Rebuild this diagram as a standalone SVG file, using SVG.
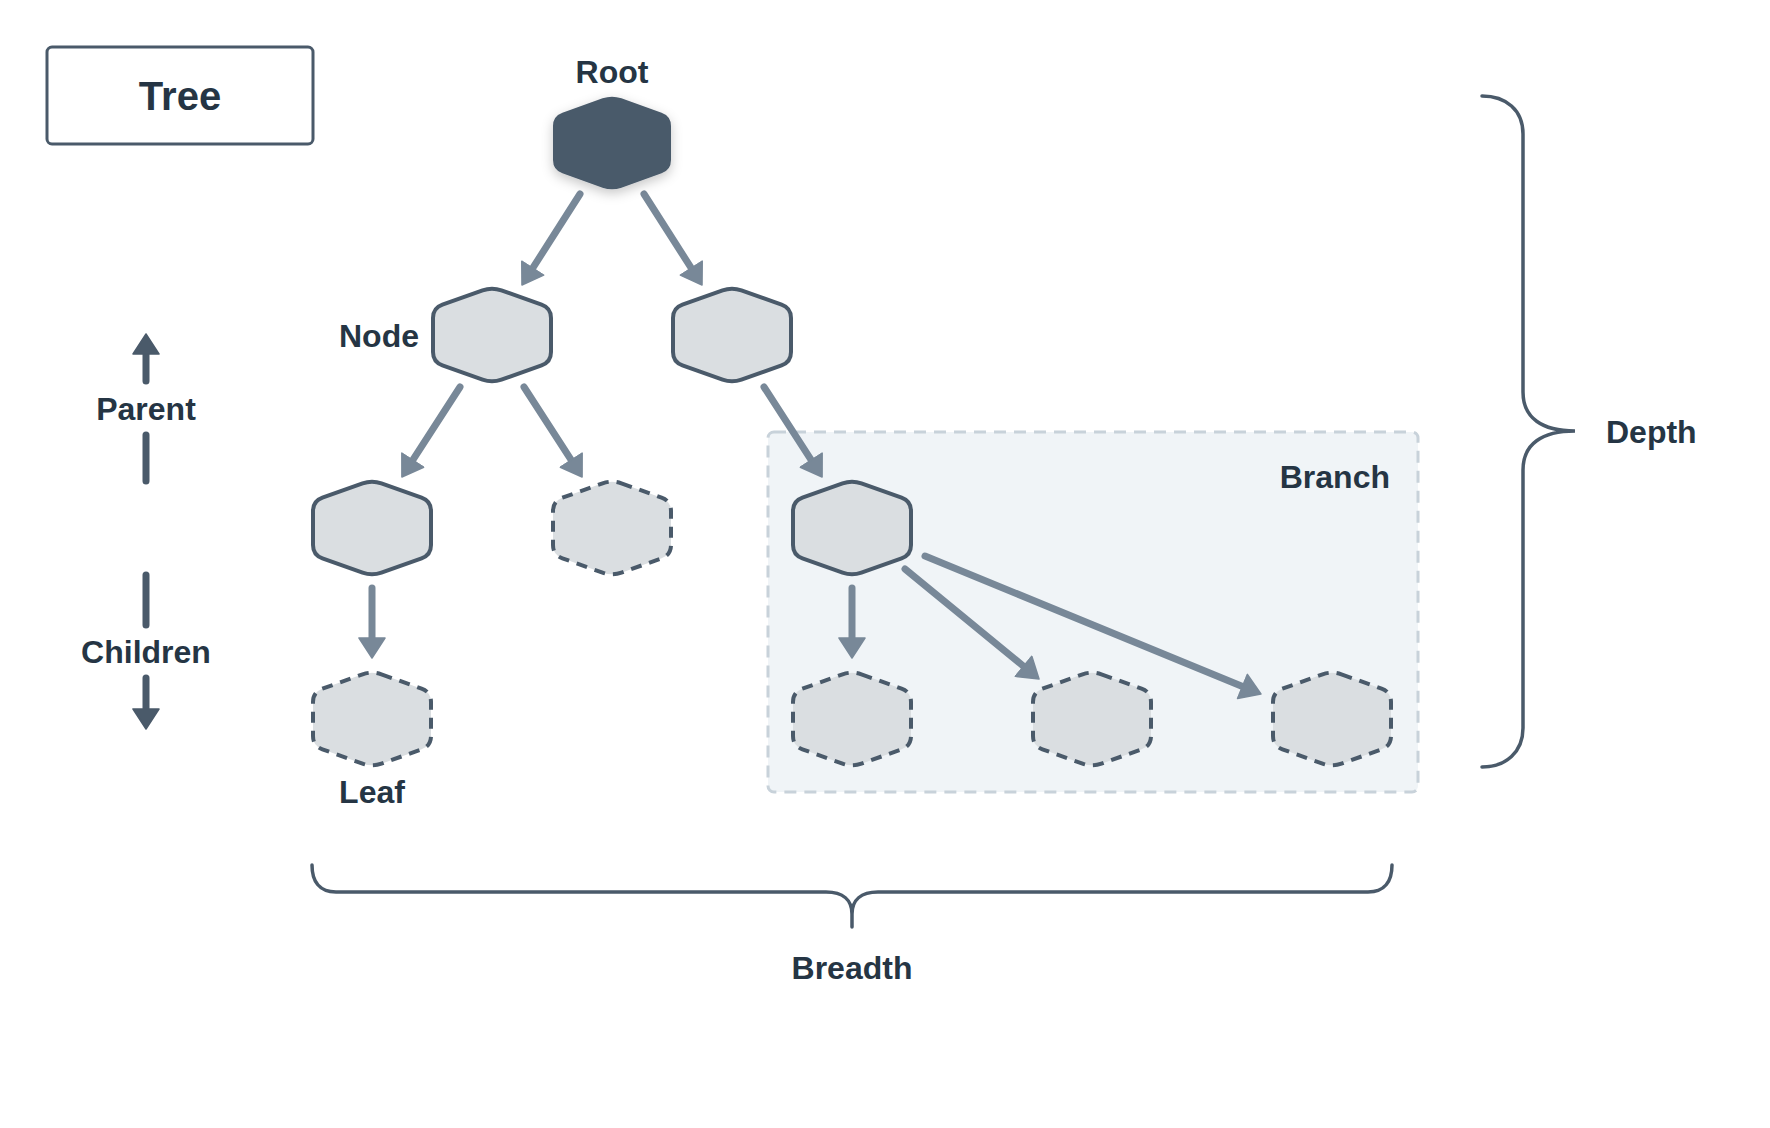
<svg xmlns="http://www.w3.org/2000/svg" xmlns:xlink="http://www.w3.org/1999/xlink" width="1770" height="1128" viewBox="0 0 1770 1128">
<style>
.lbl{font-family:"Liberation Sans",Arial,sans-serif;font-weight:bold;font-size:32px;fill:#253544}
.hex{fill:#dadee1;stroke:#4a5a6a;stroke-width:4;stroke-linejoin:round}
.dash{stroke-dasharray:11 8}
.conn{fill:none;stroke:#788898;stroke-width:7;stroke-linecap:round}
.dir{fill:none;stroke:#4a5a6a;stroke-width:7;stroke-linecap:round}
.brace{fill:none;stroke:#4a5a6a;stroke-width:3.5;stroke-linecap:round}
</style>
<defs>
<path id="hexp" d="M9.42,-44.65 L49.58,-30.35 Q59,-27 59,-17 L59,17 Q59,27 49.58,30.35 L9.42,44.65 Q0,48 -9.42,44.65 L-49.58,30.35 Q-59,27 -59,17 L-59,-17 Q-59,-27 -49.58,-30.35 L-9.42,-44.65 Q0,-48 9.42,-44.65 Z"/>
<marker id="ah" markerUnits="userSpaceOnUse" viewBox="0 0 22 28" markerWidth="22" markerHeight="28" refX="7" refY="14" orient="auto">
<path d="M1,1 L21,14 L1,27 Z" fill="#788898" stroke="#788898" stroke-width="1.5" stroke-linejoin="round"/>
</marker>
<marker id="ahd" markerUnits="userSpaceOnUse" viewBox="0 0 22 28" markerWidth="22" markerHeight="28" refX="7" refY="14" orient="auto">
<path d="M1,1 L21,14 L1,27 Z" fill="#4a5a6a" stroke="#4a5a6a" stroke-width="1.5" stroke-linejoin="round"/>
</marker>
<filter id="sh" x="-30%" y="-30%" width="160%" height="170%">
<feDropShadow dx="0" dy="4" stdDeviation="6" flood-color="#000" flood-opacity="0.22"/>
</filter>
</defs>

<g id="title">
<rect x="47" y="47" width="266" height="97" rx="5" fill="#fff" stroke="#4a5a6a" stroke-width="3"/>
<text class="lbl" x="180" y="110" text-anchor="middle" style="font-size:40px">Tree</text>
</g>

<g id="branch-area">
<rect x="768" y="432" width="650" height="360" rx="6" fill="#f0f4f7" stroke="#c8d2da" stroke-width="3" stroke-dasharray="12 8"/>
<text class="lbl" x="1390" y="488" text-anchor="end">Branch</text>
</g>

<g id="legend">
<line class="dir" x1="146" y1="381" x2="146" y2="348" marker-end="url(#ahd)"/>
<text class="lbl" x="146" y="420" text-anchor="middle">Parent</text>
<line class="dir" x1="146" y1="435" x2="146" y2="481"/>
<line class="dir" x1="146" y1="575" x2="146" y2="625"/>
<text class="lbl" x="146" y="663" text-anchor="middle">Children</text>
<line class="dir" x1="146" y1="678" x2="146" y2="715" marker-end="url(#ahd)"/>
</g>

<g id="connectors">
<line class="conn" x1="580" y1="194" x2="529.5" y2="273.2" marker-end="url(#ah)"/>
<line class="conn" x1="644" y1="194" x2="694.5" y2="273.2" marker-end="url(#ah)"/>
<line class="conn" x1="460" y1="387" x2="409.5" y2="465.2" marker-end="url(#ah)"/>
<line class="conn" x1="524" y1="387" x2="574.5" y2="465.2" marker-end="url(#ah)"/>
<line class="conn" x1="764" y1="387" x2="814.5" y2="465.2" marker-end="url(#ah)"/>
<line class="conn" x1="372" y1="588" x2="372" y2="644" marker-end="url(#ah)"/>
<line class="conn" x1="852" y1="588" x2="852" y2="644" marker-end="url(#ah)"/>
<line class="conn" x1="905" y1="569" x2="1028.2" y2="670.1" marker-end="url(#ah)"/>
<line class="conn" x1="925" y1="556" x2="1248" y2="688.7" marker-end="url(#ah)"/>
</g>

<g id="root">
<use xlink:href="#hexp" x="612" y="143" fill="#4a5a6a" filter="url(#sh)"/>
<text class="lbl" x="612" y="83" text-anchor="middle">Root</text>
</g>
<g id="node-a">
<use xlink:href="#hexp" x="492" y="335" class="hex"/>
<text class="lbl" x="419" y="347" text-anchor="end">Node</text>
</g>
<g id="node-b"><use xlink:href="#hexp" x="732" y="335" class="hex"/></g>
<g id="node-c"><use xlink:href="#hexp" x="372" y="528" class="hex"/></g>
<g id="node-d"><use xlink:href="#hexp" x="612" y="528" class="hex dash"/></g>
<g id="node-e"><use xlink:href="#hexp" x="852" y="528" class="hex"/></g>
<g id="leaf">
<use xlink:href="#hexp" x="372" y="719" class="hex dash"/>
<text class="lbl" x="372" y="803" text-anchor="middle">Leaf</text>
</g>
<g id="node-f"><use xlink:href="#hexp" x="852" y="719" class="hex dash"/></g>
<g id="node-g"><use xlink:href="#hexp" x="1092" y="719" class="hex dash"/></g>
<g id="node-h"><use xlink:href="#hexp" x="1332" y="719" class="hex dash"/></g>

<g id="depth">
<path class="brace" d="M1482,96 C1506,96 1523,110 1523,134 L1523,392 C1523,418 1542,431 1575,431 C1542,431 1523,444 1523,470 L1523,728 C1523,752 1506,767 1482,767"/>
<text class="lbl" x="1606" y="443">Depth</text>
</g>
<g id="breadth">
<path class="brace" d="M312,865 C312,881 319,892 336,892 L826,892 C843,892 852,900 852,914 L852,927 M852,914 C852,900 861,892 878,892 L1368,892 C1385,892 1392,881 1392,865"/>
<text class="lbl" x="852" y="979" text-anchor="middle">Breadth</text>
</g>
</svg>
